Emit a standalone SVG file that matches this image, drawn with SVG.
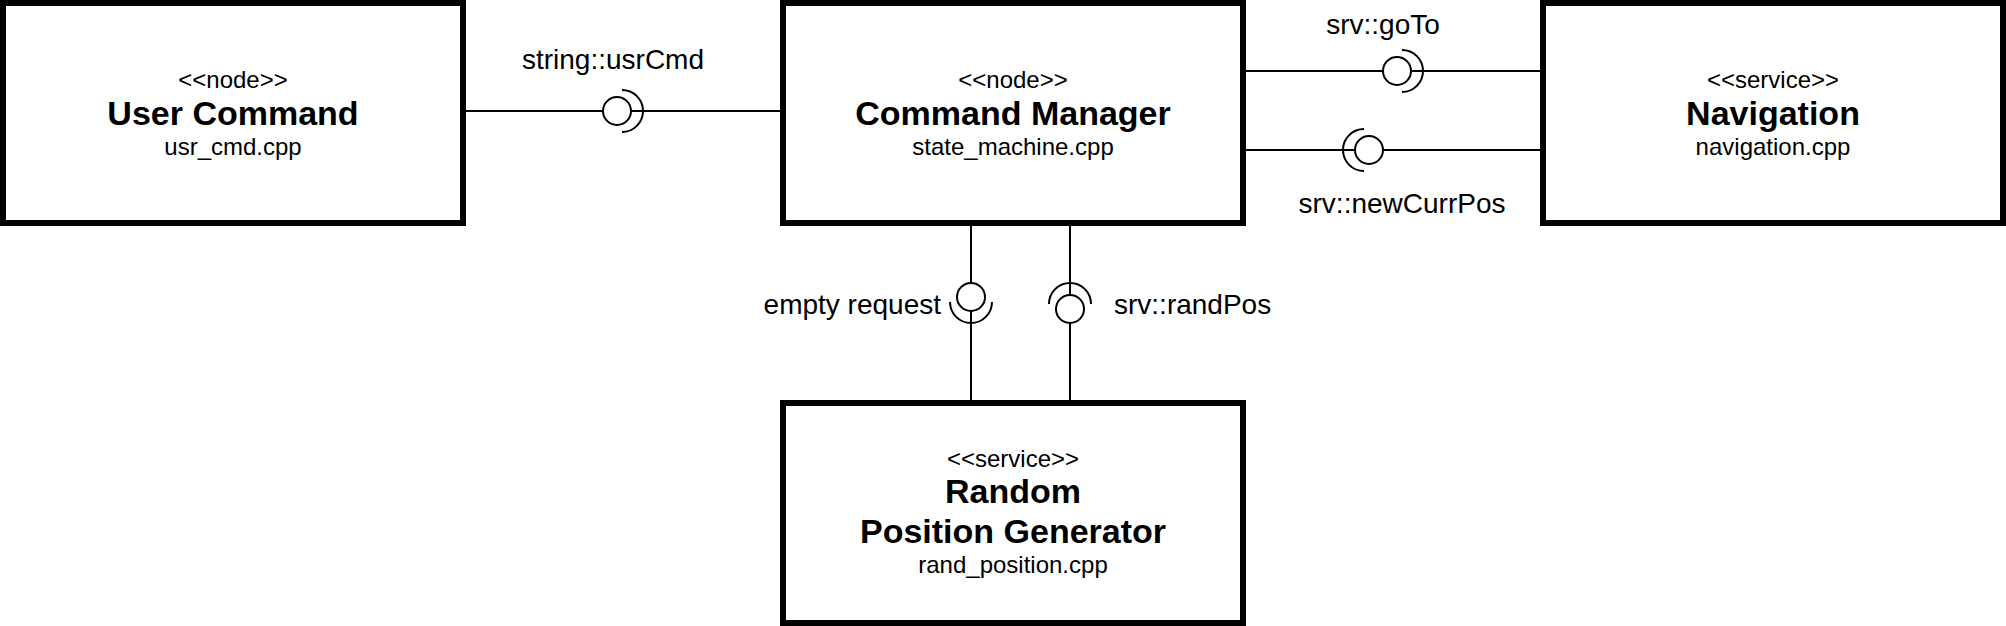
<svg xmlns="http://www.w3.org/2000/svg" width="2006" height="626" viewBox="0 0 2006 626">
<style>
.box{fill:#fff;stroke:#000;stroke-width:6}
.ln{fill:none;stroke:#000;stroke-width:2}
.ball{fill:#fff;stroke:#000;stroke-width:2}
text{font-family:"Liberation Sans",Arial,sans-serif;fill:#000}
.st{font-size:24px;text-anchor:middle}
.ti{font-size:34px;font-weight:bold;text-anchor:middle}
.lb{font-size:28px}
</style>
<rect width="2006" height="626" fill="#fff"/>
<g id="connectors">
  <g id="usrCmd">
    <path class="ln" d="M466,111 H603 M631,111 H780"/>
    <circle class="ball" cx="617" cy="111" r="14"/>
    <path class="ln" d="M622,90 A21,21 0 0,1 622,132"/>
    <text class="lb" x="613" y="69" text-anchor="middle">string::usrCmd</text>
  </g>
  <g id="goTo">
    <path class="ln" d="M1246,71 H1383 M1411,71 H1540"/>
    <circle class="ball" cx="1397" cy="71" r="14"/>
    <path class="ln" d="M1402,50 A21,21 0 0,1 1402,92"/>
    <text class="lb" x="1383" y="34" text-anchor="middle">srv::goTo</text>
  </g>
  <g id="newCurrPos">
    <path class="ln" d="M1246,150 H1355 M1383,150 H1540"/>
    <circle class="ball" cx="1369" cy="150" r="14"/>
    <path class="ln" d="M1364,129 A21,21 0 0,0 1364,171"/>
    <text class="lb" x="1402" y="213" text-anchor="middle">srv::newCurrPos</text>
  </g>
  <g id="emptyRequest">
    <path class="ln" d="M971,226 V283 M971,311 V400"/>
    <circle class="ball" cx="971" cy="297" r="14"/>
    <path class="ln" d="M950,302 A21,21 0 0,0 992,302"/>
    <text class="lb" x="941" y="314" text-anchor="end">empty request</text>
  </g>
  <g id="randPos">
    <path class="ln" d="M1070,226 V295 M1070,323 V400"/>
    <circle class="ball" cx="1070" cy="309" r="14"/>
    <path class="ln" d="M1049,304 A21,21 0 0,1 1091,304"/>
    <text class="lb" x="1114" y="314">srv::randPos</text>
  </g>
</g>
<g id="userCommand">
  <rect class="box" x="3" y="3" width="460" height="220"/>
  <text class="st" x="233" y="88">&lt;&lt;node&gt;&gt;</text>
  <text class="ti" x="233" y="125">User Command</text>
  <text class="st" x="233" y="155">usr_cmd.cpp</text>
</g>
<g id="commandManager">
  <rect class="box" x="783" y="3" width="460" height="220"/>
  <text class="st" x="1013" y="88">&lt;&lt;node&gt;&gt;</text>
  <text class="ti" x="1013" y="125">Command Manager</text>
  <text class="st" x="1013" y="155">state_machine.cpp</text>
</g>
<g id="navigation">
  <rect class="box" x="1543" y="3" width="460" height="220"/>
  <text class="st" x="1773" y="88">&lt;&lt;service&gt;&gt;</text>
  <text class="ti" x="1773" y="125">Navigation</text>
  <text class="st" x="1773" y="155">navigation.cpp</text>
</g>
<g id="randomPositionGenerator">
  <rect class="box" x="783" y="403" width="460" height="220"/>
  <text class="st" x="1013" y="467">&lt;&lt;service&gt;&gt;</text>
  <text class="ti" x="1013" y="503">Random</text>
  <text class="ti" x="1013" y="543">Position Generator</text>
  <text class="st" x="1013" y="573">rand_position.cpp</text>
</g>
</svg>
